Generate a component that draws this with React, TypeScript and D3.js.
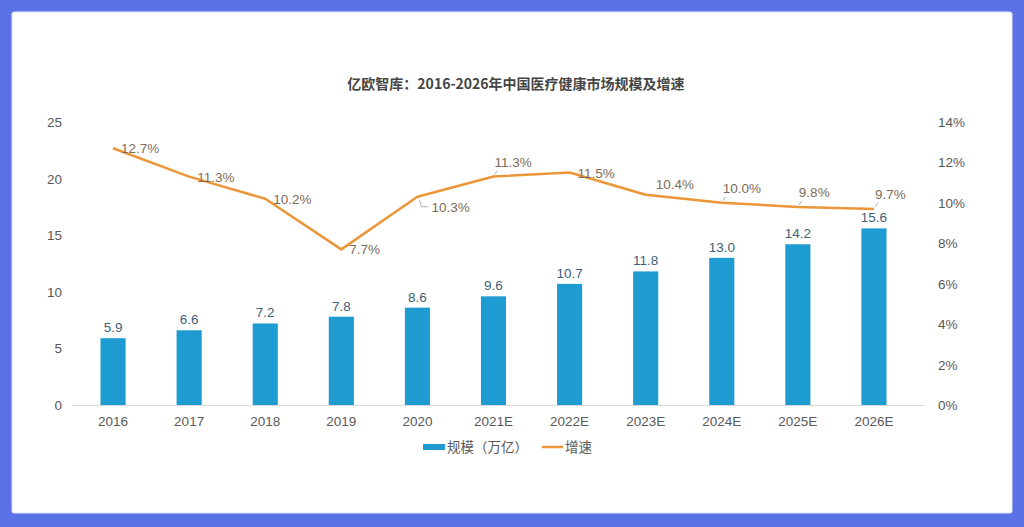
import React from "react";
import * as d3 from "d3";

const years = ["2016", "2017", "2018", "2019", "2020", "2021E", "2022E", "2023E", "2024E", "2025E", "2026E"];
const scale = [5.9, 6.6, 7.2, 7.8, 8.6, 9.6, 10.7, 11.8, 13.0, 14.2, 15.6];
const growth = [12.7, 11.3, 10.2, 7.7, 10.3, 11.3, 11.5, 10.4, 10.0, 9.8, 9.7];
const growthLabelPlacement = ["right", "right", "right", "right", "belowRight", "above", "right", "aboveRight", "above", "above", "above"];
const leftTicks = [0, 5, 10, 15, 20, 25];
const rightTicks = [0, 2, 4, 6, 8, 10, 12, 14];

const W = 1024;
const H = 527;
const FONT = "'Liberation Sans', Arial, 'Noto Sans CJK SC', sans-serif";
const CJK = "'Noto Sans CJK SC', 'Liberation Sans', sans-serif";

export default function App() {
  const plotLeft = 75;
  const plotRight = 912;
  const plotTop = 122;
  const plotBottom = 405;

  const x = d3.scaleBand<string>().domain(years).range([plotLeft, plotRight]).paddingInner(0.67).paddingOuter(0.335);
  const yL = d3.scaleLinear().domain([0, 25]).range([plotBottom, plotTop]);
  const yR = d3.scaleLinear().domain([0, 14]).range([plotBottom, plotTop]);
  const cx = (d: string) => (x(d) as number) + x.bandwidth() / 2;

  const line = d3
    .line<number>()
    .x((_, i) => cx(years[i]))
    .y((v) => yR(v));

  const labelPos = (i: number) => {
    const px = cx(years[i]);
    const py = yR(growth[i]);
    switch (growthLabelPlacement[i]) {
      case "belowRight":
        return { x: px + 14, y: py + 15, anchor: "start", leader: [px + 2, py + 3, px + 4, py + 10, px + 11, py + 10] };
      case "above":
        return { x: px + 1, y: py - 10, anchor: "start", leader: [px + 1, py - 2, px + 4, py - 6] };
      case "aboveRight":
        return { x: px + 10, y: py - 6, anchor: "start", leader: null };
      default:
        return { x: px + 8, y: py + 5, anchor: "start", leader: null };
    }
  };

  return (
    <svg width={W} height={H} style={{ position: "absolute", left: 0, top: 0, display: "block" }}>
      <rect x={0} y={0} width={W} height={H} fill="#5a72e6" />
      <rect x={12} y={12} width={1000} height={501} rx={2} fill="#ffffff" stroke="#dfe5fb" strokeWidth={1} />

      <text x={516} y={89} textAnchor="middle" fontFamily={CJK} fontWeight="bold" fontSize={14} fill="#454545">
        亿欧智库：2016-2026年中国医疗健康市场规模及增速
      </text>

      {/* left axis */}
      {leftTicks.map((t) => (
        <text key={"l" + t} x={62} y={yL(t) + 5} textAnchor="end" fontFamily={FONT} fontSize={13.5} fill="#595959">
          {t}
        </text>
      ))}
      {/* right axis */}
      {rightTicks.map((t) => (
        <text key={"r" + t} x={938} y={yR(t) + 5} textAnchor="start" fontFamily={FONT} fontSize={13.5} fill="#595959">
          {t + "%"}
        </text>
      ))}

      <line x1={plotLeft - 2} x2={plotRight + 13} y1={plotBottom + 0.5} y2={plotBottom + 0.5} stroke="#d9d9d9" />

      {/* bars */}
      {years.map((yr, i) => (
        <g key={"b" + yr}>
          <rect x={x(yr)} y={yL(scale[i])} width={x.bandwidth()} height={plotBottom - yL(scale[i])} fill="#1e9bd1" />
          <text x={cx(yr)} y={yL(scale[i]) - 6} textAnchor="middle" fontFamily={FONT} fontSize={13.5} fill="#3d6179">
            {scale[i].toFixed(1)}
          </text>
          <text x={cx(yr)} y={plotBottom + 21} textAnchor="middle" fontFamily={FONT} fontSize={13.5} fill="#595959">
            {yr}
          </text>
        </g>
      ))}

      {/* growth line */}
      <path d={line(growth) || ""} fill="none" stroke="#eb9639" strokeWidth={2.5} strokeLinejoin="round" />
      {growth.map((g, i) => {
        const p = labelPos(i);
        return (
          <g key={"g" + i}>
            {p.leader && (
              <polyline
                points={p.leader.join(" ")}
                fill="none"
                stroke="#b0b0b0"
                strokeWidth={1}
              />
            )}
            <text x={p.x} y={p.y} textAnchor={p.anchor as any} fontFamily={FONT} fontSize={13.5} fill="#7d6b58">
              {g.toFixed(1) + "%"}
            </text>
          </g>
        );
      })}

      {/* legend */}
      <rect x={423} y={444} width={22} height={6} fill="#1e9bd1" />
      <text x={447} y={452} fontFamily={CJK} fontSize={13.5} fill="#595959">
        规模（万亿）
      </text>
      <line x1={542} x2={563} y1={447} y2={447} stroke="#eb9639" strokeWidth={2.5} />
      <text x={565} y={452} fontFamily={CJK} fontSize={13.5} fill="#595959">
        增速
      </text>
    </svg>
  );
}
